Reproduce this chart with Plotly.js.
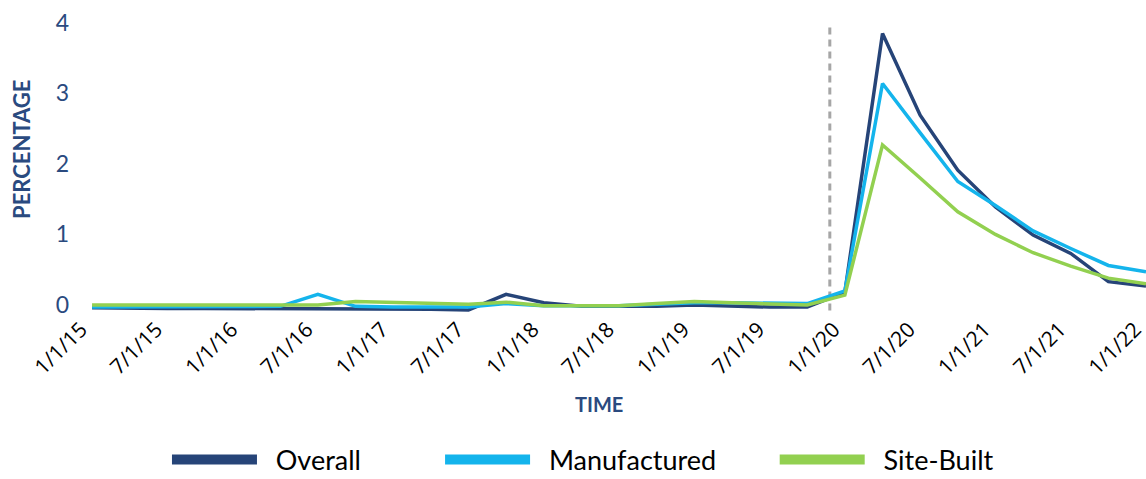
<!DOCTYPE html>
<html>
<head>
<meta charset="utf-8">
<script src="https://cdn.plot.ly/plotly-3.0.1.min.js"></script>
<style>
  html, body { margin: 0; padding: 0; background: #ffffff; }
  #chart { width: 1146px; height: 479px; }
</style>
</head>
<body>
<div id="chart"></div>
<script>
// Quarterly observations, 1/1/15 through 1/1/22
const quarters = [
  "1/1/15","4/1/15","7/1/15","10/1/15",
  "1/1/16","4/1/16","7/1/16","10/1/16",
  "1/1/17","4/1/17","7/1/17","10/1/17",
  "1/1/18","4/1/18","7/1/18","10/1/18",
  "1/1/19","4/1/19","7/1/19","10/1/19",
  "1/1/20","4/1/20","7/1/20","10/1/20",
  "1/1/21","4/1/21","7/1/21","10/1/21",
  "1/1/22"
];

const overall = [
  -0.04, -0.05, -0.05, -0.05,
  -0.05, -0.05, -0.05, -0.05,
  -0.06, -0.06, -0.07, 0.15,
  0.03, -0.02, -0.02, -0.02,
  0.00, -0.02, -0.03, -0.03,
  0.18, 3.85, 2.69, 1.91,
  1.39, 0.99, 0.73, 0.33,
  0.27
];

const manufactured = [
  -0.03, -0.03, -0.03, -0.03,
  -0.03, -0.02, 0.15, -0.02,
  -0.03, -0.03, -0.03, 0.02,
  -0.01, -0.01, -0.01, 0.01,
  0.03, 0.03, 0.03, 0.02,
  0.20, 3.14, 2.44, 1.75,
  1.41, 1.05, 0.80, 0.56,
  0.47
];

const siteBuilt = [
  0.00, 0.00, 0.00, 0.00,
  0.00, 0.00, 0.00, 0.05,
  0.04, 0.03, 0.01, 0.04,
  -0.01, -0.01, -0.01, 0.02,
  0.05, 0.03, 0.01, 0.00,
  0.14, 2.27, 1.80, 1.32,
  1.00, 0.74, 0.55, 0.38,
  0.30
];

const seriesNames = ["Overall", "Manufactured", "Site-Built"];
const tickLabels = ["1/1/15","7/1/15","1/1/16","7/1/16","1/1/17","7/1/17","1/1/18","7/1/18",
                    "1/1/19","7/1/19","1/1/20","7/1/20","1/1/21","7/1/21","1/1/22"];
const yTicks = [0, 1, 2, 3, 4];
const markerQuarter = 19.6; // dashed marker just before 1/1/20
const xTitle = "TIME";
const yTitle = "PERCENTAGE";

const colors = ["#264478", "#14b4ec", "#92d050"];
const xIdx = quarters.map((q, i) => i);
const tickVals = tickLabels.map(t => quarters.indexOf(t));
const seriesData = [overall, manufactured, siteBuilt];
const legendIds = ["legend", "legend2", "legend3"];

const traces = [];
seriesData.forEach((vals, k) => {
  traces.push({
    type: "scatter", mode: "lines",
    x: xIdx, y: vals,
    name: seriesNames[k],
    legendgroup: seriesNames[k],
    showlegend: false,
    line: { color: colors[k], width: 3.5 },
    hoverinfo: "skip"
  });
});
// legend swatches (thick bars, as in the original key)
seriesNames.forEach((n, k) => {
  traces.push({
    type: "scatter", mode: "lines",
    x: [null], y: [null],
    name: "&nbsp;&nbsp;" + n, legendgroup: n, showlegend: true,
    legend: legendIds[k],
    line: { color: colors[k], width: 12 },
    hoverinfo: "skip"
  });
});

const navy = "#2a4a7f";
const legendFont = { family: "Lato, 'Open Sans', sans-serif", size: 27, color: "#000000" };
function legendAt(xc, w) {
  return {
    orientation: "h",
    xref: "container", yref: "container",
    x: xc, xanchor: "left",
    y: 0.0397, yanchor: "middle",
    font: legendFont,
    itemwidth: 85,
    entrywidth: w,
    bgcolor: "rgba(0,0,0,0)",
    borderwidth: 0
  };
}

const layout = {
  width: 1146, height: 479,
  paper_bgcolor: "#ffffff", plot_bgcolor: "#ffffff",
  margin: { l: 80, r: 0, t: 20, b: 167 },
  showlegend: true,
  legend: legendAt(0.1457, 210),
  legend2: legendAt(0.384, 300),
  legend3: legendAt(0.676, 240),
  xaxis: {
    range: [-0.32, 28.0],
    tickmode: "array",
    tickvals: tickVals,
    ticktext: tickLabels,
    tickangle: -45,
    ticklabelshift: -11,
    ticklabeloverflow: "allow",
    showgrid: false, zeroline: false, showline: false,
    ticks: "",
    automargin: false,
    tickfont: { family: "'Open Sans', sans-serif", size: 21, color: "#000000" },
    fixedrange: true
  },
  yaxis: {
    range: [-0.1, 4.04],
    tickmode: "array",
    tickvals: yTicks,
    ticktext: yTicks.map(String),
    showgrid: false, zeroline: false, showline: false,
    ticks: "",
    automargin: false,
    ticklabelstandoff: 10,
    tickfont: { family: "Lato, 'Open Sans', sans-serif", size: 23, color: navy },
    fixedrange: true
  },
  annotations: [
    {
      text: "<b>" + yTitle + "</b>", textangle: -90,
      xref: "paper", yref: "paper", x: -0.0544, y: 0.555,
      xanchor: "center", yanchor: "middle", showarrow: false,
      font: { family: "Lato, 'Open Sans', sans-serif", size: 22, color: navy }
    },
    {
      text: "<b>" + xTitle + "</b>",
      xref: "paper", yref: "paper", x: 0.487, y: -0.315,
      xanchor: "center", yanchor: "middle", showarrow: false,
      font: { family: "Lato, 'Open Sans', sans-serif", size: 20, color: navy }
    }
  ],
  shapes: [{
    type: "line", xref: "x", yref: "y",
    x0: markerQuarter, x1: markerQuarter, y0: -0.08, y1: 4.0,
    line: { color: "#a6a6a6", width: 3, dash: "7px,5px" },
    layer: "below"
  }]
};

Plotly.newPlot("chart", traces, layout, { displayModeBar: false, staticPlot: true });
</script>
</body>
</html>
